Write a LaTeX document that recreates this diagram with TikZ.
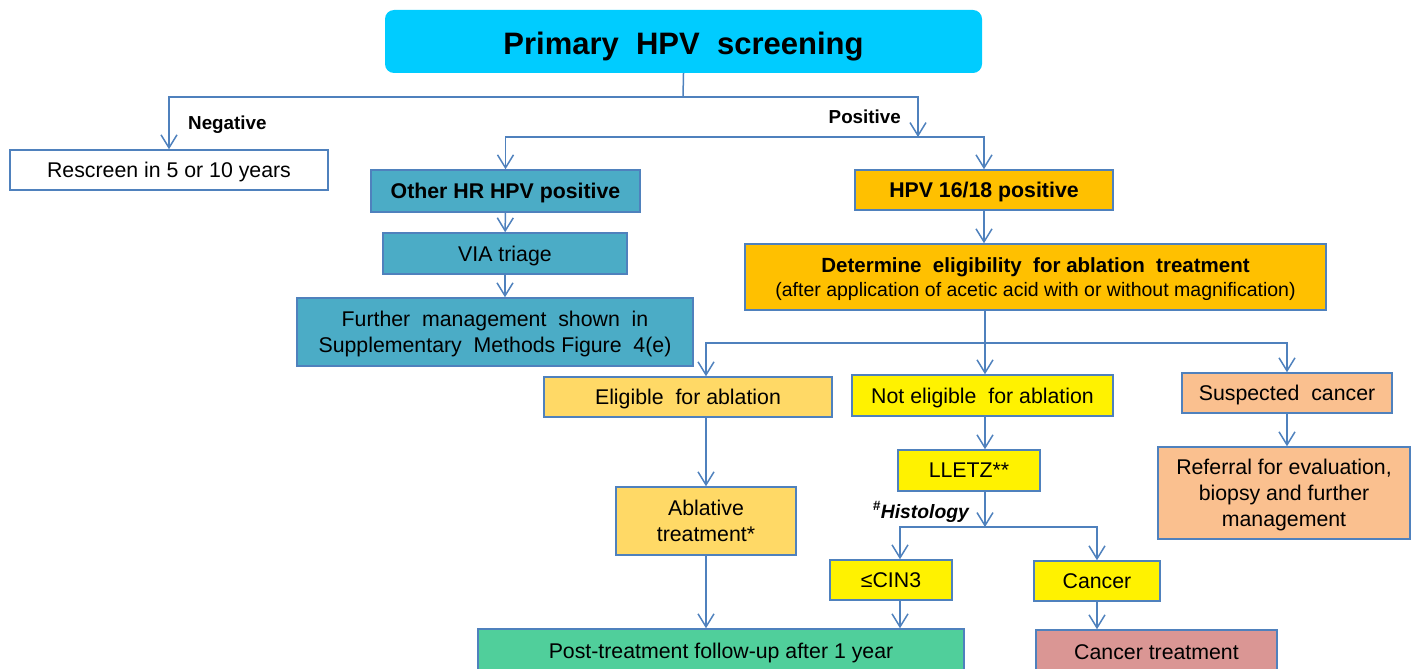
\documentclass[tikz,border=0pt]{standalone}
\usepackage{fontspec}
\setmainfont{Liberation Sans}
\usetikzlibrary{arrows.meta, calc, positioning}
\definecolor{linblue}{RGB}{79,129,189}
\definecolor{titlecyan}{RGB}{0,204,255}
\definecolor{teal}{RGB}{75,172,198}
\definecolor{amber}{RGB}{255,192,0}
\definecolor{lightamber}{RGB}{255,217,102}
\definecolor{peach}{RGB}{250,192,143}
\definecolor{mint}{RGB}{80,207,155}
\definecolor{rose}{RGB}{218,150,148}
\tikzset{
    boxnode/.style = {draw=linblue, line width=1.5pt, rectangle, inner sep=0pt, align=center,
      text depth=0pt, font=\fontsize{21.3}{26}\selectfont},
    boldnode/.style = {boxnode, font=\fontsize{21.3}{26}\selectfont\bfseries},
    titlenode/.style = {rectangle, rounded corners=9pt, fill=titlecyan, inner sep=0pt,
      text height=27pt, text depth=0pt, font=\fontsize{31}{36}\selectfont\bfseries},
    labelnode/.style = {draw=none, fill=none, inner sep=0pt, text depth=0pt,
      font=\fontsize{18.8}{21}\selectfont\bfseries},
    connect/.style = {draw=linblue, line width=1.5pt, -{Straight Barb[length=13pt, width=16pt]}},
    plainline/.style = {draw=linblue, line width=1.5pt}
}

\begin{document}
\begin{tikzpicture}[x=1pt, y=-1pt]
    \clip (0,0) rectangle (1416,669);

    \node [titlenode, name=title, minimum width=597, minimum height=63] at (683.5,41.5) {Primary~~HPV~~screening};

    \node [boxnode, fill=white, name=rescreen, minimum width=318, minimum height=40] at (169,170) {Rescreen in 5 or 10 years};
    \node [boldnode, fill=teal, name=otherhr, minimum width=269, minimum height=42] at (505.5,191) {Other HR HPV positive};
    \node [boldnode, fill=amber, name=hpv, minimum width=258, minimum height=40] at (984,190) {HPV 16/18 positive};
    \node [boxnode, fill=teal, name=via, minimum width=244, minimum height=41] at (505,253.5) {VIA triage};
    \node [boxnode, fill=teal, name=further, minimum width=396, minimum height=68] at (495,332)
        {Further~ management~ shown~ in\\Supplementary~ Methods Figure~ 4(e)};
    \node [boxnode, fill=amber, name=determine, minimum width=581, minimum height=66] at (1035.5,277)
        {{\fontsize{20.5}{24}\selectfont\bfseries Determine~ eligibility~ for ablation~ treatment}\\[-2pt]
         {\fontsize{19.5}{22}\selectfont (after application of acetic acid with or without magnification)}};

    \node [boxnode, fill=lightamber, name=eligible, minimum width=288, minimum height=40] at (688,397) {Eligible~ for ablation};
    \node [boxnode, fill=yellow, name=noteligible, minimum width=261, minimum height=41] at (982.5,395.5) {Not eligible~ for ablation};
    \node [boxnode, fill=peach, name=suspected, minimum width=210, minimum height=40] at (1287,393) {Suspected~ cancer};
    \node [boxnode, fill=lightamber, name=ablative, minimum width=180, minimum height=68] at (706,521) {Ablative\\treatment*};
    \node [boxnode, fill=yellow, name=lletz, minimum width=142, minimum height=41] at (969,470.5) {LLETZ**};
    \node [boxnode, fill=peach, name=referral, minimum width=252, minimum height=92] at (1284,493)
        {Referral for evaluation,\\biopsy and further\\management};
    \node [boxnode, fill=yellow, name=cin, minimum width=122, minimum height=40] at (891,580) {≤CIN3};
    \node [boxnode, fill=yellow, name=cancer, minimum width=126, minimum height=40] at (1097,581) {Cancer};
    \node [boxnode, fill=mint, name=follow, minimum width=486, minimum height=44] at (721,651) {Post-treatment follow-up after 1 year};
    \node [boxnode, fill=rose, name=cancertreat, minimum width=241, minimum height=44] at (1156.5,652) {Cancer treatment};

    % screening result split
    \coordinate (fork1) at (683,97);
    \coordinate (pos) at (918,137);
    \draw [plainline] (title.south) -- (fork1);
    \draw [connect] (fork1) -| (rescreen.north);
    \draw [connect] (fork1) -| (pos);
    \node [labelnode, anchor=west] at (188,123) {Negative};
    \node [labelnode, anchor=east] at (901,117) {Positive};
    \draw [connect] (pos) -| (otherhr.north);
    \draw [connect] (pos) -| (hpv.north);

    % other HR HPV branch
    \draw [connect] (otherhr) -- (via);
    \draw [connect] (via) -- (via.south |- further.north);

    % HPV 16/18 branch
    \draw [connect] (hpv) -- (hpv.south |- determine.north);
    \coordinate (fork2) at (985,343);
    \draw [plainline] (determine.south -| fork2) -- (fork2);
    \draw [connect] (fork2) -| (ablative.north |- eligible.north);
    \draw [connect] (fork2) -- (fork2 |- noteligible.north);
    \draw [connect] (fork2) -| (suspected.north);

    \draw [connect] (ablative.north |- eligible.south) -- (ablative.north);
    \draw [connect] (ablative.south) -- (ablative.south |- follow.north);

    \draw [connect] (fork2 |- noteligible.south) -- (fork2 |- lletz.north);
    \coordinate (fork3) at (985,527);
    \draw [connect] (fork2 |- lletz.south) -- (fork3);
    \node [labelnode, anchor=east, font=\fontsize{19.3}{21}\selectfont\bfseries\itshape] at (969,510) {\textsuperscript{\#}Histology};
    \coordinate (cinin) at ($(cin.north)+(9,0)$);
    \coordinate (cinout) at ($(cin.south)+(9,0)$);
    \draw [connect] (fork3) -| (cinin);
    \draw [connect] (fork3) -| (cancer.north);
    \draw [connect] (cinout) -- (cinout |- follow.north);
    \draw [connect] (cancer) -- (cancer.south |- cancertreat.north);

    \draw [connect] (suspected) -- (suspected.south |- referral.north);
\end{tikzpicture}
\end{document}
